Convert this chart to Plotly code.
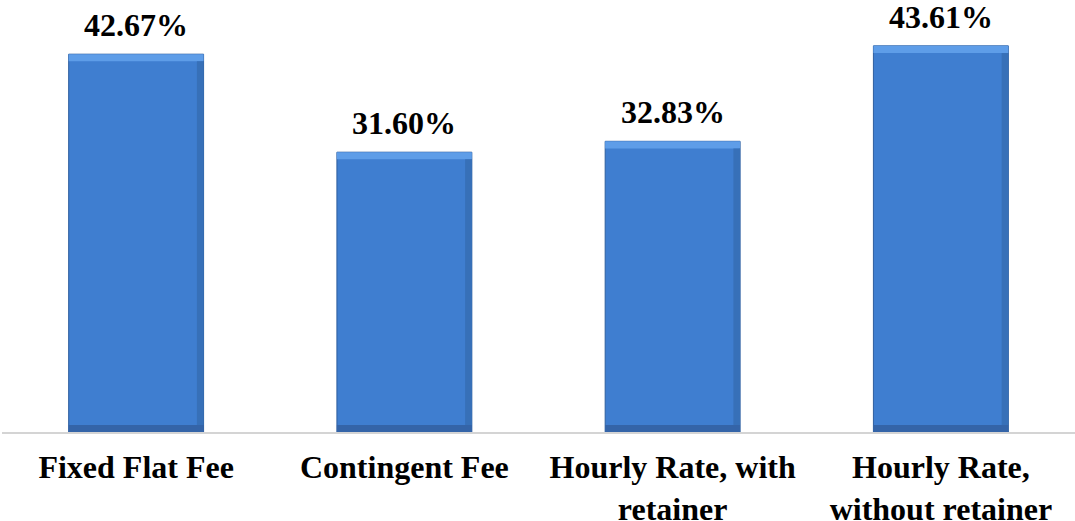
import plotly.graph_objects as go

categories = ["Fixed Flat Fee", "Contingent Fee", "Hourly Rate, with<br>retainer", "Hourly Rate,<br>without retainer"]
values = [42.67, 31.60, 32.83, 43.61]
value_labels = ["42.67%", "31.60%", "32.83%", "43.61%"]

FONT = "Liberation Serif"
x_idx = list(range(len(categories)))

fig = go.Figure()
fig.add_trace(go.Bar(
    x=x_idx, y=values,
    marker=dict(color="#3F7ED0", line=dict(color="#2E5E9E", width=1)),
    width=0.503,
    hoverinfo="skip",
))

# bevel highlight (top) and shade (bottom / right) bands derived from data
band = 0.8
shapes = []
for i, v in zip(x_idx, values):
    shapes.append(dict(type="rect", xref="x", yref="y", x0=i - 0.2515, x1=i + 0.2515,
                       y0=v - band, y1=v, fillcolor="#5E9DE8", line=dict(width=0), layer="above"))
    shapes.append(dict(type="rect", xref="x", yref="y", x0=i - 0.2515, x1=i + 0.2515,
                       y0=0, y1=band, fillcolor="#3464A8", line=dict(width=0), layer="above"))
    shapes.append(dict(type="rect", xref="x", yref="y", x0=i + 0.2515 - 0.025, x1=i + 0.2515,
                       y0=band, y1=v - band, fillcolor="#3770B8", line=dict(width=0), layer="above"))

for i, v, t in zip(x_idx, values, value_labels):
    fig.add_annotation(x=i, y=v, text="<b>" + t + "</b>", showarrow=False,
                       yanchor="bottom", yshift=9,
                       font=dict(family=FONT, size=32, color="#000000"))

fig.update_layout(
    width=1075, height=521,
    margin=dict(l=2, r=0, t=7, b=89, autoexpand=False),
    paper_bgcolor="white", plot_bgcolor="white",
    showlegend=False,
    shapes=shapes,
    xaxis=dict(
        tickmode="array", tickvals=x_idx,
        ticktext=["<b>" + c + "</b>" for c in categories],
        range=[-0.5, len(categories) - 0.5],
        automargin=False,
        showline=True, linecolor="#D4D4D4", linewidth=2,
        showgrid=False, zeroline=False, ticks="",
        ticklabelstandoff=6,
        tickfont=dict(family=FONT, size=32, color="#000000"),
    ),
    yaxis=dict(range=[0, 48], visible=False, showgrid=False, zeroline=False, automargin=False),
)

fig.write_html("out.html", config={"displayModeBar": False},
               post_script="document.body.style.margin='0';document.body.style.padding='0';")
